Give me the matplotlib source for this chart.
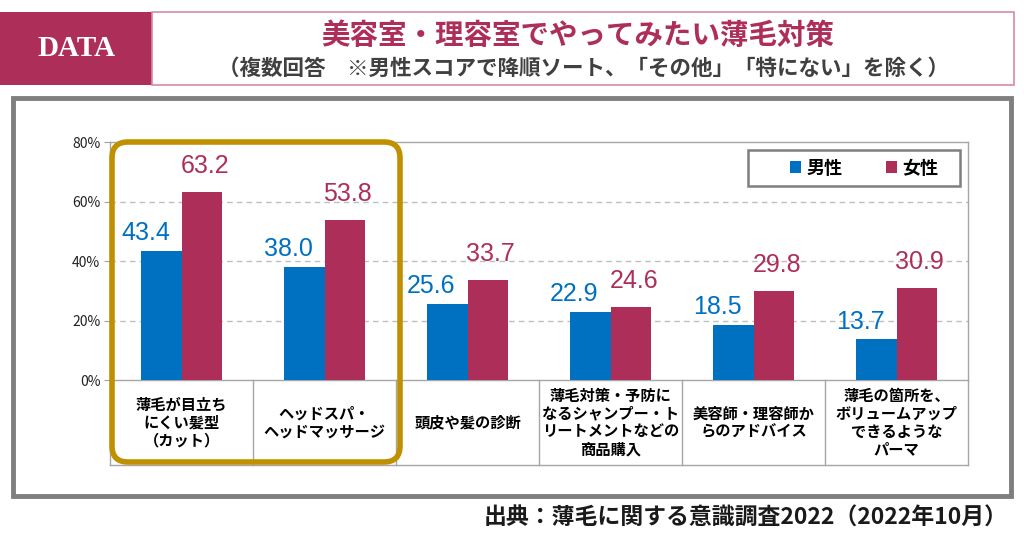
import matplotlib.pyplot as plt
from matplotlib.patches import Rectangle, FancyBboxPatch
from matplotlib.lines import Line2D
from matplotlib.transforms import Affine2D
import numpy as np

plt.rcParams['font.family'] = ['Noto Sans CJK JP', 'DejaVu Sans']

# data
categories = [
    "薄毛が目立ち\nにくい髪型\n（カット）",
    "ヘッドスパ・\nヘッドマッサージ",
    "頭皮や髪の診断",
    "薄毛対策・予防に\nなるシャンプー・ト\nリートメントなどの\n商品購入",
    "美容師・理容師か\nらのアドバイス",
    "薄毛の箇所を、\nボリュームアップ\nできるような\nパーマ",
]
male = [43.4, 38.0, 25.6, 22.9, 18.5, 13.7]
female = [63.2, 53.8, 33.7, 24.6, 29.8, 30.9]
series_names = ["男性", "女性"]
yticks = [0, 20, 40, 60, 80]

title = "美容室・理容室でやってみたい薄毛対策"
subtitle = "（複数回答　※男性スコアで降順ソート、「その他」「特にない」を除く）"
source = "出典：薄毛に関する意識調査2022（2022年10月）"

BLUE = "#0070C0"
RED = "#AE2E5A"
GOLD = "#BF9000"

W, H = 1024, 538
fig = plt.figure(figsize=(W / 100, H / 100), dpi=100)
# pixel coords (origin top-left) -> figure
px = Affine2D().scale(1 / W, -1 / H).translate(0, 1) + fig.transFigure

# header
fig.patches.append(Rectangle((0, 12), 152, 73, transform=px, facecolor=RED, edgecolor="none"))
fig.patches.append(Rectangle((152, 12), 862, 73, transform=px, facecolor="none",
                             edgecolor="#D88AA2", lw=1.2))
fig.text(76 / W, 1 - 49 / H, "DATA", color="white", fontsize=21, family="Liberation Serif",
         fontweight="bold", ha="center", va="center")
fig.text(578 / W, 1 - 36 / H, title, color=RED, fontsize=20.5, fontweight="bold",
         ha="center", va="center")
fig.text(583 / W, 1 - 68 / H, subtitle, color="#404040", fontsize=15.5, fontweight="bold",
         ha="center", va="center")

# outer chart frame
fig.patches.append(Rectangle((13, 98), 998, 398, transform=px, facecolor="none",
                             edgecolor="#7F7F7F", lw=3.5))

# axes
ax_l, ax_r, ax_t, ax_b = 110, 968, 142, 380
ax = fig.add_axes([ax_l / W, 1 - ax_b / H, (ax_r - ax_l) / W, (ax_b - ax_t) / H])
x = np.arange(len(categories))
w = 0.285
ax.bar(x - w / 2, male, w, color=BLUE, label=series_names[0], zorder=3)
ax.bar(x + w / 2, female, w, color=RED, label=series_names[1], zorder=3)
for i in range(len(categories)):
    ax.annotate(f"{male[i]:.1f}", (x[i] - w / 2 - 0.11, male[i]), xytext=(0, 4),
                textcoords="offset points", ha="center", va="bottom", color=BLUE,
                fontsize=18, family="Liberation Sans")
    ax.annotate(f"{female[i]:.1f}", (x[i] + w / 2 + 0.02, female[i]), xytext=(0, 10),
                textcoords="offset points", ha="center", va="bottom", color=RED,
                fontsize=18, family="Liberation Sans")

ax.set_xlim(-0.5, len(categories) - 0.5)
ax.set_ylim(0, 80)
ax.set_yticks(yticks)
ax.set_yticklabels([f"{v}%" for v in yticks], fontsize=10, color="#222222")
ax.set_xticks([])
ax.tick_params(axis="y", length=4, color="#A0A0A0", pad=3)
for s in ax.spines.values():
    s.set_color("#A6A6A6")
    s.set_linewidth(1)
for v in yticks[1:-1]:
    ax.axhline(v, color="#BFBFBF", lw=1, ls=(0, (4, 3)), zorder=1)

# category table under the axis
tb = -(465 - ax_b) / (ax_b - ax_t)
trans = ax.get_xaxis_transform()
for b in np.arange(-0.5, len(categories), 1.0):
    ax.add_line(Line2D([b, b], [0, tb], transform=trans, color="#A6A6A6", lw=1, clip_on=False))
ax.add_line(Line2D([-0.5, len(categories) - 0.5], [tb, tb], transform=trans, color="#A6A6A6",
                   lw=1, clip_on=False))
for i, c in enumerate(categories):
    ax.text(x[i], tb / 2, c, transform=trans, ha="center", va="center", fontsize=11,
            fontweight="bold", linespacing=1.15, color="black")

# legend: frame drawn separately so it can be wider than the entries
lx0, lx1, ly0, ly1 = 748, 960, 150, 186
fx0 = (lx0 - ax_l) / (ax_r - ax_l)
fx1 = (lx1 - ax_l) / (ax_r - ax_l)
fy0 = (ax_b - ly1) / (ax_b - ax_t)
fy1 = (ax_b - ly0) / (ax_b - ax_t)
ax.add_patch(Rectangle((fx0, fy0), fx1 - fx0, fy1 - fy0, transform=ax.transAxes,
                       facecolor="white", edgecolor="#7F7F7F", lw=1.8, zorder=5))
leg = ax.legend(loc="center", bbox_to_anchor=((fx0 + fx1) / 2 + 0.012, (fy0 + fy1) / 2),
                ncol=2, frameon=False, handlelength=0.6, handleheight=0.6,
                handletextpad=0.3, columnspacing=2.4, borderpad=0.2,
                prop={"weight": "bold", "size": 13})
leg.set_zorder(6)

# highlight box
fig.patches.append(FancyBboxPatch((112, 142), 288, 320, transform=px,
                                  boxstyle="round,pad=0,rounding_size=16",
                                  facecolor="none", edgecolor=GOLD, lw=4, zorder=10))

fig.text(1008 / W, 1 - 518 / H, source, fontsize=16.5, fontweight="bold", ha="right",
         va="center", color="#1a1a1a")

fig.savefig("out.png", dpi=100)
